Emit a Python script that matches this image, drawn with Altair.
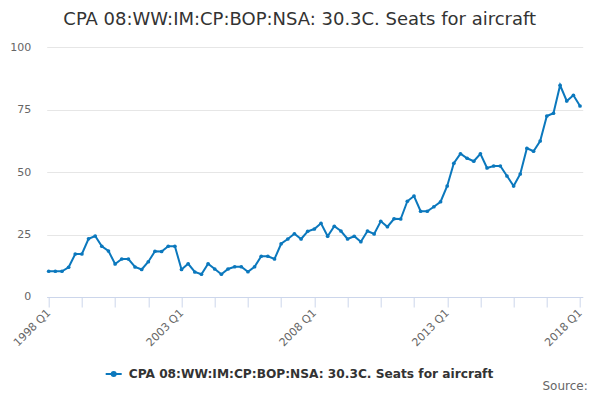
import altair as alt
import pandas as pd

years = list(range(1998, 2019))
quarter_labels = [f"{y} Q{q}" for y in years for q in range(1, 5)][:81]
values = [
    10.3, 10.3, 10.3, 11.9,
    17.2, 17.2, 23.3, 24.4,
    20.3, 18.4, 13.2, 15.2,
    15.2, 12.0, 11.0, 14.1,
    18.3, 18.2, 20.3, 20.3,
    11.0, 13.3, 10.0, 9.1,
    13.3, 11.2, 9.1, 11.2,
    12.1, 12.1, 10.1, 12.1,
    16.3, 16.3, 15.2, 21.3,
    23.2, 25.3, 23.2, 26.3,
    27.2, 29.5, 24.3, 28.3,
    26.4, 23.2, 24.3, 22.1,
    26.4, 25.2, 30.3, 28.1,
    31.3, 31.2, 38.3, 40.4,
    34.3, 34.3, 36.1, 38.1,
    44.4, 53.5, 57.3, 55.5,
    54.3, 57.3, 51.6, 52.4,
    52.4, 48.4, 44.4, 49.2,
    59.5, 58.3, 62.4, 72.4,
    73.5, 84.7, 78.4, 80.7,
    76.4,
]
series_name = "CPA 08:WW:IM:CP:BOP:NSA: 30.3C. Seats for aircraft"
x_tick_values = list(range(0, 81, 5))
y_tick_values = [0, 25, 50, 75, 100]

df = pd.DataFrame({
    "idx": list(range(len(values))),
    "quarter": quarter_labels,
    "value": values,
    "series": [series_name] * len(values),
})

FONT = "DejaVu Sans"
COLOR = "#0b78bd"

line = alt.Chart(df).mark_line(
    strokeWidth=2,
    point=alt.OverlayMarkDef(size=14, filled=True, color=COLOR),
).encode(
    x=alt.X(
        "idx:Q",
        scale=alt.Scale(domain=[-0.3, 80.4], nice=False, zero=False),
        axis=alt.Axis(
            title=None,
            values=x_tick_values,
            labelExpr="datum.value % 20 == 0 ? (1998 + datum.value / 4) + ' Q1' : ''",
            labelAngle=-45,
            labelAlign="right",
            labelBaseline="middle",
            labelFont=FONT,
            labelFontSize=11,
            labelColor="#666666",
            labelPadding=4,
            tickColor="#ccd6eb",
            tickSize=10,
            domainColor="#ccd6eb",
            grid=False,
            labelOverlap=False,
        ),
    ),
    y=alt.Y(
        "value:Q",
        scale=alt.Scale(domain=[0, 100], nice=False),
        axis=alt.Axis(
            title=None,
            values=y_tick_values,
            labelFont=FONT,
            labelFontSize=11,
            labelColor="#666666",
            labelPadding=16,
            ticks=False,
            domain=False,
            gridColor="#e6e6e6",
        ),
    ),
    color=alt.Color(
        "series:N",
        scale=alt.Scale(range=[COLOR]),
        legend=alt.Legend(
            title=None,
            orient="none",
            legendX=58,
            legendY=318,
            symbolType="M-1,0H1M-0.25,0A0.25,0.25 0 1,0 0.25,0A0.25,0.25 0 1,0 -0.25,0",
            symbolSize=256,
            symbolStrokeWidth=2,
            symbolFillColor=COLOR,
            symbolStrokeColor=COLOR,
            labelFont=FONT,
            labelFontSize=12.2,
            labelFontWeight="bold",
            labelColor="#333333",
            labelLimit=600,
            labelOffset=6,
            padding=0,
        ),
    ),
)

source = alt.Chart(pd.DataFrame({"t": ["Source:"]})).mark_text(
    align="right", baseline="alphabetic", font=FONT, fontSize=12, color="#666666"
).encode(
    text="t:N",
    x=alt.value(541),
    y=alt.value(343),
)

chart = alt.layer(line, source).properties(
    width=536,
    height=250,
    padding={"left": 38.7, "top": 39, "right": 9, "bottom": 95},
    autosize=alt.AutoSizeParams(type="none"),
    title=alt.TitleParams(
        text="CPA 08:WW:IM:CP:BOP:NSA: 30.3C. Seats for aircraft",
        font=FONT,
        fontSize=18,
        fontWeight="normal",
        color="#333333",
        anchor="middle",
        dx=-15,
        offset=12,
    ),
).configure_view(stroke=None)

chart.save("out.html", embed_options={"renderer": "svg", "actions": False})
